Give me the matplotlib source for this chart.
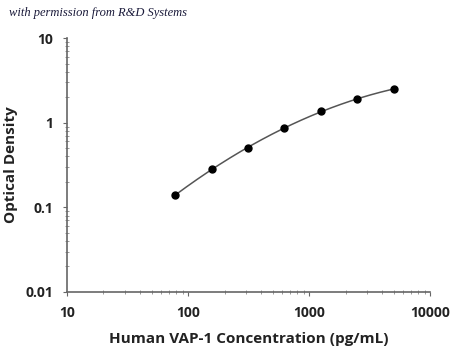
import numpy as np
import matplotlib.pyplot as plt

# standard curve data
conc = [78.125, 156.25, 312.5, 625, 1250, 2500, 5000]
od = [0.14, 0.28, 0.50, 0.87, 1.38, 1.90, 2.50]

plt.rcParams['font.family'] = ['Open Sans', 'DejaVu Sans']

fig = plt.figure(figsize=(4.5, 3.5), dpi=100)
ax = fig.add_axes([0.149, 0.166, 0.807, 0.725])

# quadratic fit in log-log space for the smooth curve
lx = np.log10(conc)
ly = np.log10(od)
coef = np.polyfit(lx, ly, 2)
xs = np.linspace(lx[0], lx[-1], 200)
ax.plot(10**xs, 10**np.polyval(coef, xs), color='#555555', lw=1.1, zorder=2)
ax.plot(conc, od, 'o', color='black', ms=5, zorder=3)

ax.set_xscale('log')
ax.set_yscale('log')
ax.set_xlim(10, 10000)
ax.set_ylim(0.01, 10)
ax.set_xticks([10, 100, 1000, 10000])
ax.set_xticklabels(['10', '100', '1000', '10000'])
ax.set_yticks([0.01, 0.1, 1, 10])
ax.set_yticklabels(['0.01', '0.1', '1', '10'])

for s in ['top', 'right']:
    ax.spines[s].set_visible(False)
for s in ['left', 'bottom']:
    ax.spines[s].set_color('#666666')
    ax.spines[s].set_linewidth(1.2)

ax.tick_params(which='major', direction='out', length=3, color='#666666', labelsize=10, pad=7)
ax.tick_params(which='minor', direction='inout', length=3, color='#888888')
for lbl in ax.get_xticklabels() + ax.get_yticklabels():
    lbl.set_fontweight('bold')
    lbl.set_color('#222222')

ax.set_xlabel('Human VAP-1 Concentration (pg/mL)', fontsize=11, fontweight='bold', color='#222222', labelpad=9)
ax.set_ylabel('Optical Density', fontsize=11, fontweight='bold', color='#222222', labelpad=5)

fig.text(0.02, 0.955, 'with permission from R&D Systems', fontsize=9, style='italic',
         family='Liberation Serif', color='#1a1a3a')

fig.savefig('out.png', dpi=100)
